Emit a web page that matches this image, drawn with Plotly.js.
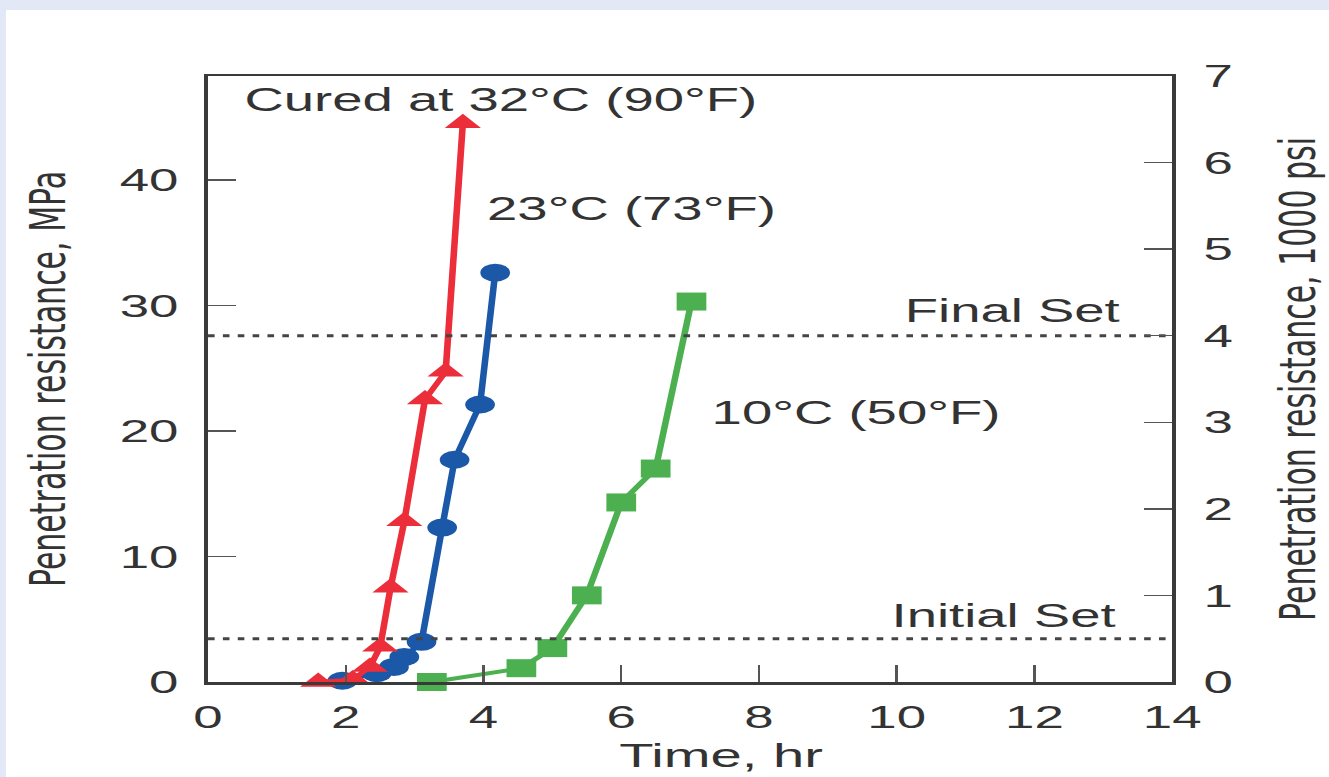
<!DOCTYPE html>
<html>
<head>
<meta charset="utf-8">
<script src="https://cdn.plot.ly/plotly-3.0.1.min.js"></script>
<style>
  html, body { margin:0; padding:0; width:1329px; height:777px; overflow:hidden; background:#e2e8f6; }
  #bg { position:absolute; left:6px; top:10px; width:1323px; height:767px; background:#ffffff; }
  #chart { position:absolute; left:0; top:0; width:805px; height:777px; transform:scaleX(1.651); transform-origin:0 0; }
</style>
</head>
<body>
<div id="bg"></div>
<div id="chart"></div>
<script>
// ---- data ----
const xTicks   = [0, 2, 4, 6, 8, 10, 12, 14];
const mpaTicks = [0, 10, 20, 30, 40];
const psiTicks = [0, 1, 2, 3, 4, 5, 6, 7];

// Cured at 32°C (90°F)  — red triangles
const time32 = [1.6, 2.1, 2.35, 2.5, 2.65, 2.85, 3.15, 3.45, 3.7];
const mpa32  = [0.0, 0.2, 1.2, 2.8, 7.5, 12.8, 22.5, 24.7, 44.5];

// 23°C (73°F) — blue circles
const time23 = [1.95, 2.45, 2.7, 2.85, 3.1, 3.4, 3.58, 3.95, 4.17];
const mpa23  = [0.1, 0.7, 1.2, 2.0, 3.2, 12.3, 17.7, 22.1, 32.6];

// 10°C (50°F) — green squares
const time10 = [3.25, 4.55, 5.0, 5.5, 6.0, 6.5, 7.02];
const mpa10  = [0.0, 1.1, 2.7, 6.9, 14.3, 17.0, 30.3];

// set limits, in 1000 psi
const setNames = ['Final Set', 'Initial Set'];
const setPsi   = [4.0, 0.5];
const setTime  = [0, 14];

const PSI_TO_MPA = 6.894757; // 1000 psi in MPa

const labels = ['Cured at 32°C (90°F)', '23°C (73°F)', '10°C (50°F)', 'Final Set', 'Initial Set'];
const labelX = [4.26, 6.14, 9.40, 11.68, 11.55];
const labelY = [46.4, 37.75, 21.5, 29.6, 5.3];

const FONT = 'Liberation Sans, Arial, Helvetica, sans-serif';
const TXT = '#333333';
const AX = '#3a3a3a';

const traces = [
  {
    x: setTime, y: [setPsi[0], setPsi[0]], yaxis: 'y2', mode: 'lines', name: setNames[0],
    line: {color: '#444444', width: 3, dash: '4px,5px'}, hoverinfo: 'skip'
  },
  {
    x: setTime, y: [setPsi[1], setPsi[1]], yaxis: 'y2', mode: 'lines', name: setNames[1],
    line: {color: '#444444', width: 3, dash: '4px,5px'}, hoverinfo: 'skip'
  },
  {
    x: time10, y: mpa10, mode: 'lines+markers', name: '10°C (50°F)', cliponaxis: false,
    line: {color: '#4cb050', width: 4},
    marker: {symbol: 'square', size: 18, color: '#4cb050'}
  },
  {
    x: time23, y: mpa23, mode: 'lines+markers', name: '23°C (73°F)', cliponaxis: false,
    line: {color: '#1b58a8', width: 4},
    marker: {symbol: 'circle', size: 18, color: '#1b58a8'}
  },
  {
    x: time32, y: mpa32, mode: 'lines+markers', name: '32°C (90°F)', cliponaxis: false,
    line: {color: '#ec2d3a', width: 4},
    marker: {symbol: 'triangle-up', size: 19, color: '#ec2d3a'}
  }
];

const axisCommon = {
  ticks: 'inside', ticklen: 17, tickwidth: 1.5, tickcolor: '#555555',
  showline: true, linewidth: 2.5, linecolor: AX,
  showgrid: false, zeroline: false,
  tickfont: {family: FONT, size: 32, color: TXT}
};

const layout = {
  width: 805, height: 777,
  margin: {l: 126, r: 95, t: 76, b: 95, pad: 0},
  paper_bgcolor: 'rgba(0,0,0,0)',
  plot_bgcolor: 'rgba(0,0,0,0)',
  showlegend: false,
  font: {family: FONT, size: 32, color: TXT},
  xaxis: Object.assign({}, axisCommon, {
    range: [0, 14], tickvals: xTicks, ticktext: xTicks.map(String),
    mirror: true, ticklabelstandoff: 5
  }),
  yaxis: Object.assign({}, axisCommon, {
    range: [0, 7 * PSI_TO_MPA], tickvals: mpaTicks, ticktext: mpaTicks.map(String),
    ticklabelstandoff: 9,
    title: {text: 'Penetration resistance, MPa', font: {family: 'DejaVu Sans', size: 30, color: TXT}, standoff: 24}
  }),
  yaxis2: Object.assign({}, axisCommon, {
    range: [0, 7], overlaying: 'y', side: 'right', tickvals: psiTicks, ticktext: psiTicks.map(String),
    ticklabelstandoff: 10,
    title: {text: 'Penetration resistance, 1000 psi', font: {family: 'DejaVu Sans', size: 30, color: TXT}, standoff: 30}
  }),
  annotations: labels.map((t, i) => ({
    x: labelX[i], y: labelY[i], xref: 'x', yref: 'y', text: t, showarrow: false,
    xanchor: 'center', yanchor: 'middle', font: {family: FONT, size: 33, color: TXT}
  })).concat([{
    x: 0.531, y: -0.12, xref: 'paper', yref: 'paper', text: 'Time, hr', showarrow: false,
    xanchor: 'center', yanchor: 'middle', font: {family: FONT, size: 34, color: TXT}
  }])
};

Plotly.newPlot('chart', traces, layout, {staticPlot: true, displayModeBar: false});
</script>
</body>
</html>
